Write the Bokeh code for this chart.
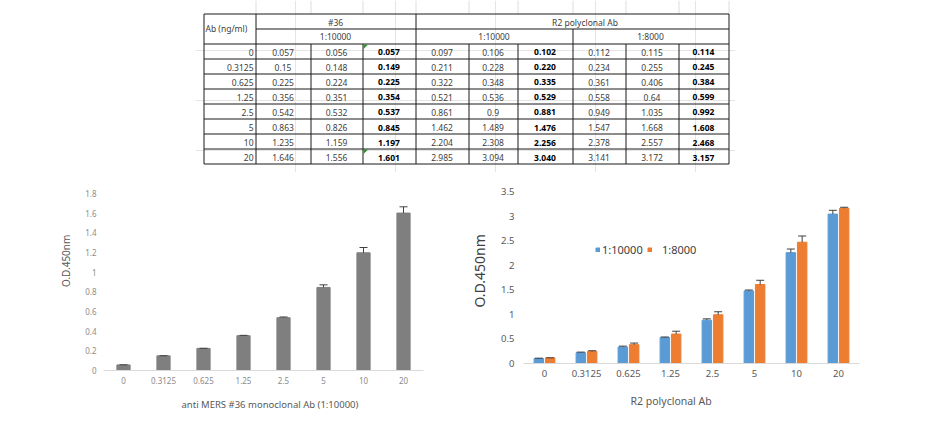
import numpy as np
from bokeh.plotting import figure
from bokeh.models import (Range1d, FactorRange, ColumnDataSource, Whisker, TeeHead,
                          Title, Legend, LegendItem, Spacer, FixedTicker)
from bokeh.layouts import column, row
from bokeh.transform import dodge
from bokeh.embed import file_html
from bokeh.resources import INLINE
from bokeh.core.properties import value

# ---------------- data ----------------
concentrations = ["0", "0.3125", "0.625", "1.25", "2.5", "5", "10", "20"]

m36_rep1 = [0.057, 0.15, 0.225, 0.356, 0.542, 0.863, 1.235, 1.646]
m36_rep2 = [0.056, 0.148, 0.224, 0.351, 0.532, 0.826, 1.159, 1.556]
m36_mean = [0.057, 0.149, 0.225, 0.354, 0.537, 0.845, 1.197, 1.601]

r2_10000_rep1 = [0.097, 0.211, 0.322, 0.521, 0.861, 1.462, 2.204, 2.985]
r2_10000_rep2 = [0.106, 0.228, 0.348, 0.536, 0.9, 1.489, 2.308, 3.094]
r2_10000_mean = [0.102, 0.220, 0.335, 0.529, 0.881, 1.476, 2.256, 3.040]

r2_8000_rep1 = [0.112, 0.234, 0.361, 0.558, 0.949, 1.547, 2.378, 3.141]
r2_8000_rep2 = [0.115, 0.255, 0.406, 0.64, 1.035, 1.668, 2.557, 3.172]
r2_8000_mean = [0.114, 0.245, 0.384, 0.599, 0.992, 1.608, 2.468, 3.157]

y1_ticks = [0, 0.2, 0.4, 0.6, 0.8, 1, 1.2, 1.4, 1.6, 1.8]
y1_tick_labels = ["0", "0.2", "0.4", "0.6", "0.8", "1", "1.2", "1.4", "1.6", "1.8"]
y2_ticks = [0, 0.5, 1, 1.5, 2, 2.5, 3, 3.5]
y2_tick_labels = ["0", "0.5", "1", "1.5", "2", "2.5", "3", "3.5"]

table_corner = "Ab (ng/ml)"
group_labels = ["#36", "R2 polyclonal Ab"]
dilution_labels = ["1:10000", "1:10000", "1:8000"]
series_labels = ["1:10000", "1:8000"]
x1_title = "anti MERS #36 monoclonal Ab (1:10000)"
x2_title = "R2 polyclonal Ab"
y_title = "O.D.450nm"
comment_cells = [(0, 2), (7, 2)]  # (row, value column) with green marker


def sd(a, b):
    return [float(np.std([u, v], ddof=1)) for u, v in zip(a, b)]


# ---------------- style ----------------
FONT = "Noto Sans"
GRAY_BAR = "#7F7F7F"
BLUE = "#5B9BD5"
ORANGE = "#ED7D31"

# ---------------- table ----------------
T_W, T_H = 540, 172
col_w = [52, 55, 52, 53, 53, 49, 55, 53, 53, 50]
row_h = [15, 14.5] + [15.1] * 8
T_X0, T_Y0 = 8, 13.5
col_e = T_X0 + np.concatenate([[0], np.cumsum(col_w)])
row_e = T_Y0 + np.concatenate([[0], np.cumsum(row_h)])


def px(v):
    return float(np.floor(v) + 0.5)


tab = figure(width=T_W, height=T_H, x_range=Range1d(0, T_W), y_range=Range1d(T_H, 0),
             x_axis_location=None, y_axis_location=None, toolbar_location=None,
             output_backend="svg", min_border=0)
tab.outline_line_color = None

# faint spreadsheet grid lines above the table
fx0, fy0, fx1, fy1 = [], [], [], []
for c in col_e[1:]:
    fx0.append(px(c)); fx1.append(px(c)); fy0.append(0); fy1.append(px(row_e[0]))
tab.segment(fx0, fy0, fx1, fy1, line_color="#DDDDDD", line_width=1)

sx0, sy0, sx1, sy1 = [], [], [], []


def seg(a, b, c, d):
    sx0.append(a); sy0.append(b); sx1.append(c); sy1.append(d)


L, R = px(col_e[0]), px(col_e[-1])
T, B = px(row_e[0]), px(row_e[-1])
seg(L, T, R, T)
seg(L, B, R, B)
seg(L, T, L, B)
seg(R, T, R, B)
seg(px(col_e[1]), px(row_e[1]), R, px(row_e[1]))
for k in range(2, len(row_e) - 1):
    seg(L, px(row_e[k]), R, px(row_e[k]))
for k in (1, 4):
    seg(px(col_e[k]), T, px(col_e[k]), B)
seg(px(col_e[7]), px(row_e[1]), px(col_e[7]), B)
for k in (2, 3, 5, 6, 8, 9):
    seg(px(col_e[k]), px(row_e[2]), px(col_e[k]), B)
tab.segment(sx0, sy0, sx1, sy1, line_color="#1a1a1a", line_width=1)

tx, ty, tt, ta, tfs, tc = [], [], [], [], [], []


def add(x, y, t, align="center", style="normal", color="#404040"):
    tx.append(float(x)); ty.append(float(y)); tt.append(t); ta.append(align)
    tfs.append(style); tc.append(color)


add(col_e[0] + 2, (row_e[0] + row_e[2]) / 2, table_corner, "left")
add((col_e[1] + col_e[4]) / 2, (row_e[0] + row_e[1]) / 2 + 0.5, group_labels[0])
add((col_e[4] + col_e[10]) / 2 + 13, (row_e[0] + row_e[1]) / 2 + 0.5, group_labels[1])
for g, lab in enumerate(dilution_labels):
    add((col_e[1 + 3 * g] + col_e[4 + 3 * g]) / 2, (row_e[1] + row_e[2]) / 2 + 0.5, lab)

value_cols = [m36_rep1, m36_rep2, m36_mean,
              r2_10000_rep1, r2_10000_rep2, r2_10000_mean,
              r2_8000_rep1, r2_8000_rep2, r2_8000_mean]
for r, conc in enumerate(concentrations):
    yc = (row_e[r + 2] + row_e[r + 3]) / 2 + 1
    add(col_e[1] - 2, yc, conc, "right")
    for c, vals in enumerate(value_cols):
        xc = (col_e[c + 1] + col_e[c + 2]) / 2
        if c % 3 == 2:
            add(xc, yc, f"{vals[r]:.3f}", style="bold", color="#000000")
        else:
            add(xc, yc, f"{vals[r]:g}")

tsrc = ColumnDataSource(dict(x=tx, y=ty, text=tt, align=ta, style=tfs, color=tc))
tab.text(x="x", y="y", text="text", source=tsrc, text_align="align", text_font_style="style",
         text_color="color", text_baseline="middle", text_font=value(FONT),
         text_font_size="8.5px")

gxs, gys = [], []
for r, c in comment_cells:
    x0 = px(col_e[c + 1]) + 0.5
    y0 = px(row_e[r + 2]) + 0.5
    gxs.append([x0, x0 + 4.5, x0]); gys.append([y0, y0, y0 + 4.5])
tab.patches(gxs, gys, fill_color="#2E8B2E", line_color=None)


# ---------------- chart helpers ----------------
def style_axes(p, tick_font, tick_color, ytick_standoff, xtick_standoff):
    for ax in p.xaxis + p.yaxis:
        ax.major_tick_line_color = None
        ax.minor_tick_line_color = None
        ax.major_tick_in = 0
        ax.major_tick_out = 0
        ax.minor_tick_in = 0
        ax.minor_tick_out = 0
        ax.major_label_text_font = FONT
        ax.major_label_text_font_size = tick_font
        ax.major_label_text_color = tick_color
    p.yaxis.axis_line_color = None
    p.xaxis.axis_line_color = "#D9D9D9"
    p.xaxis.axis_line_width = 1
    p.yaxis.major_label_standoff = ytick_standoff
    p.xaxis.major_label_standoff = xtick_standoff
    p.grid.visible = False
    p.outline_line_color = None
    if "frame_align" in p.properties():
        p.frame_align = False


def make_title(text, size, color, offset, standoff):
    return Title(text=text, align="left", offset=offset, standoff=standoff,
                 vertical_align="middle", text_font=FONT, text_font_size=size,
                 text_color=color, text_font_style="normal")


# ---------------- left chart ----------------
m36_sd = sd(m36_rep1, m36_rep2)
src1 = ColumnDataSource(dict(cat=concentrations, mean=m36_mean,
                             upper=[m + s for m, s in zip(m36_mean, m36_sd)]))
p1 = figure(width=399, height=248, x_range=FactorRange(factors=concentrations),
            y_range=Range1d(0, 1.8), toolbar_location=None, output_backend="svg",
            min_border_left=62, min_border_right=17, min_border_top=15, min_border_bottom=56)
p1.vbar(x="cat", top="mean", width=0.33, source=src1, fill_color=GRAY_BAR, line_color=GRAY_BAR)
w1 = Whisker(source=src1, base="cat", lower="mean", upper="upper", line_color="#404040",
             line_width=1, lower_head=None, upper_head=TeeHead(size=8, line_color="#404040"),
             level="annotation")
p1.add_layout(w1)
p1.yaxis.ticker = FixedTicker(ticks=y1_ticks)
p1.yaxis.major_label_overrides = dict(zip(y1_ticks, y1_tick_labels))
style_axes(p1, "8px", "#8C8C8C", 7, 6)
p1.add_layout(make_title(y_title, "10px", "#595959", 83.5, 18), "left")
p1.add_layout(make_title(x1_title, "9.5px", "#595959", 78, 21), "below")

# ---------------- right chart ----------------
a_sd = sd(r2_10000_rep1, r2_10000_rep2)
b_sd = sd(r2_8000_rep1, r2_8000_rep2)
src2 = ColumnDataSource(dict(cat=concentrations,
                             a=r2_10000_mean, a_up=[m + s for m, s in zip(r2_10000_mean, a_sd)],
                             b=r2_8000_mean, b_up=[m + s for m, s in zip(r2_8000_mean, b_sd)]))
p2 = figure(width=477, height=251, x_range=FactorRange(factors=concentrations),
            y_range=Range1d(0, 3.5), toolbar_location=None, output_backend="svg",
            min_border_left=73, min_border_right=68, min_border_top=15, min_border_bottom=64)
OFF = 0.135
BW = 0.225
ra = p2.vbar(x=dodge("cat", -OFF, range=p2.x_range), top="a", width=BW, source=src2,
             fill_color=BLUE, line_color=BLUE)
rb = p2.vbar(x=dodge("cat", OFF, range=p2.x_range), top="b", width=BW, source=src2,
             fill_color=ORANGE, line_color=ORANGE)
for key, off in (("a", -OFF), ("b", OFF)):
    w = Whisker(source=src2, base=dodge("cat", off, range=p2.x_range), lower=key,
                upper=key + "_up", line_color="#404040", line_width=1, lower_head=None,
                upper_head=TeeHead(size=8, line_color="#404040"), level="annotation")
    p2.add_layout(w)
p2.yaxis.ticker = FixedTicker(ticks=y2_ticks)
p2.yaxis.major_label_overrides = dict(zip(y2_ticks, y2_tick_labels))
style_axes(p2, "9.5px", "#595959", 9, 6)
p2.add_layout(make_title(y_title, "14px", "#404040", 56, 17), "left")
p2.add_layout(make_title(x2_title, "10.5px", "#595959", 107, 27), "below")

for lab, g, loc, stand in ((series_labels[0], ra, (72, 106), 2),
                           (series_labels[1], rb, (124, 106), 10)):
    leg = Legend(items=[LegendItem(label=lab, renderers=[g])], location=loc,
                 orientation="horizontal", glyph_width=5, glyph_height=5,
                 label_standoff=stand, padding=0, margin=0, border_line_color=None,
                 background_fill_alpha=0, label_text_font=FONT,
                 label_text_font_size="11px", label_text_color="#404040")
    p2.add_layout(leg)

# ---------------- layout ----------------
top = row(Spacer(width=195, height=T_H), tab)
left_block = column(Spacer(width=10, height=6), p1)
right_block = column(Spacer(width=10, height=4), p2)
bottom = row(Spacer(width=41, height=250), left_block, Spacer(width=10, height=250), right_block)
layout = column(top, bottom)

open("out.html", "w").write(file_html(layout, INLINE))
